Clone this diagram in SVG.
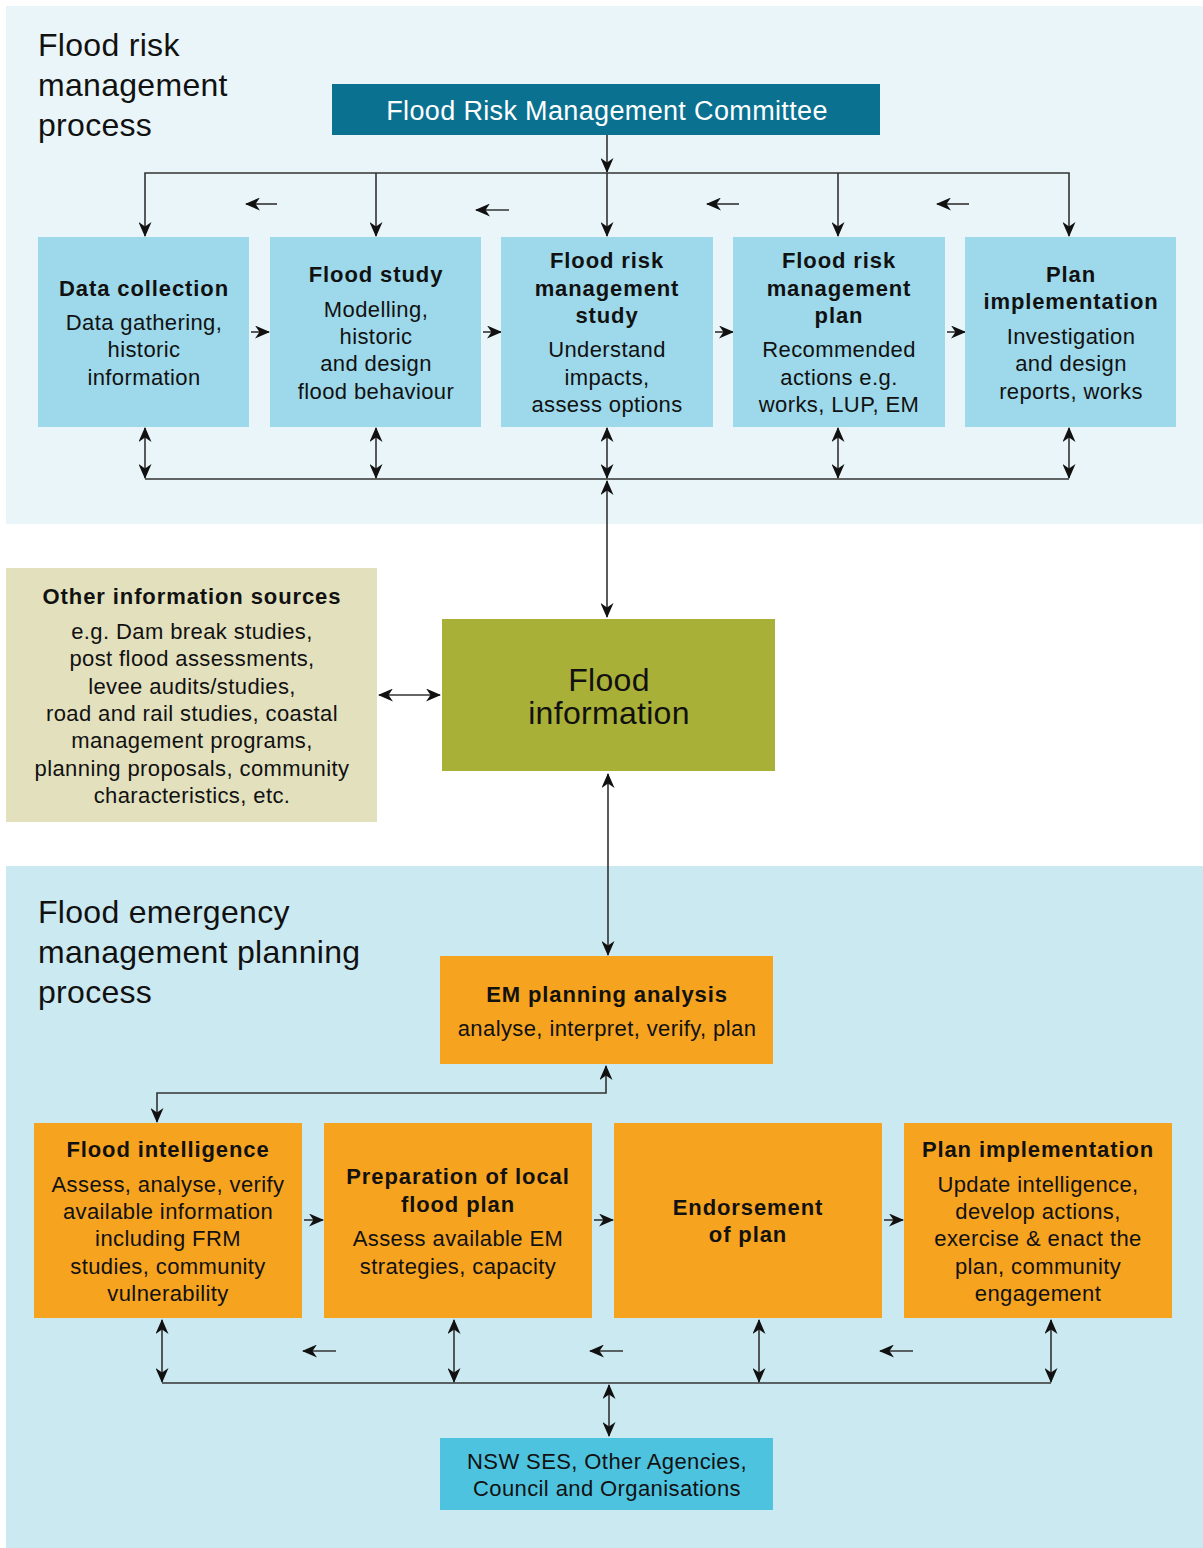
<svg xmlns="http://www.w3.org/2000/svg" width="1203" height="1548" viewBox="0 0 1203 1548">
<style>
text{font-family:"Liberation Sans",Arial,sans-serif;fill:#111;}
.hd{font-size:32px;letter-spacing:0.3px;}
.tb{font-size:22px;font-weight:bold;letter-spacing:0.9px;text-anchor:middle;}
.bd{font-size:22px;letter-spacing:0.4px;text-anchor:middle;}
.ln{stroke:#333;stroke-width:1.6;fill:none;}
.lb{fill:#9dd9ea;}
.or{fill:#f6a31f;}
</style>
<defs>
<marker id="ah" viewBox="0 0 15 13" refX="14" refY="6.5" markerWidth="15" markerHeight="13" markerUnits="userSpaceOnUse" orient="auto-start-reverse">
<path d="M0,0 L15,6.5 L0,13 L4.5,6.5 z" fill="#111"/>
</marker>
</defs>
<g id="backgrounds">
<rect x="6" y="6" width="1197" height="518" fill="#e9f5f8"/>
<rect x="6" y="866" width="1197" height="682" fill="#cbe9f1"/>
</g>
<g id="titles">
<text class="hd" x="38" y="56">Flood risk</text>
<text class="hd" x="38" y="96">management</text>
<text class="hd" x="38" y="136">process</text>
<text class="hd" x="38" y="923">Flood emergency</text>
<text class="hd" x="38" y="963">management planning</text>
<text class="hd" x="38" y="1003">process</text>
</g>
<g id="connectors">
<path class="ln" d="M607,135 V172" marker-end="url(#ah)"/>
<path class="ln" d="M145,236 V173 H1069 V236" marker-start="url(#ah)" marker-end="url(#ah)"/>
<path class="ln" d="M376,173 V236" marker-end="url(#ah)"/>
<path class="ln" d="M607,173 V236" marker-end="url(#ah)"/>
<path class="ln" d="M838,173 V236" marker-end="url(#ah)"/>
<path class="ln" d="M277,204 H246" marker-end="url(#ah)"/>
<path class="ln" d="M509,210 H476" marker-end="url(#ah)"/>
<path class="ln" d="M739,204 H707" marker-end="url(#ah)"/>
<path class="ln" d="M969,204 H937" marker-end="url(#ah)"/>
<path class="ln" d="M251,332 H269" marker-end="url(#ah)"/>
<path class="ln" d="M483,332 H501" marker-end="url(#ah)"/>
<path class="ln" d="M715,332 H733" marker-end="url(#ah)"/>
<path class="ln" d="M947,332 H965" marker-end="url(#ah)"/>
<path class="ln" d="M145,428 V478" marker-start="url(#ah)" marker-end="url(#ah)"/>
<path class="ln" d="M376,428 V478" marker-start="url(#ah)" marker-end="url(#ah)"/>
<path class="ln" d="M607,428 V478" marker-start="url(#ah)" marker-end="url(#ah)"/>
<path class="ln" d="M838,428 V478" marker-start="url(#ah)" marker-end="url(#ah)"/>
<path class="ln" d="M1069,428 V478" marker-start="url(#ah)" marker-end="url(#ah)"/>
<path class="ln" d="M145,479 H1069"/>
<path class="ln" d="M607,481 V617" marker-start="url(#ah)" marker-end="url(#ah)"/>
<path class="ln" d="M379,695 H440" marker-start="url(#ah)" marker-end="url(#ah)"/>
<path class="ln" d="M608,774 V955" marker-start="url(#ah)" marker-end="url(#ah)"/>
<path class="ln" d="M157,1122 V1093 H606 V1066" marker-start="url(#ah)" marker-end="url(#ah)"/>
<path class="ln" d="M304,1220 H323" marker-end="url(#ah)"/>
<path class="ln" d="M594,1220 H613" marker-end="url(#ah)"/>
<path class="ln" d="M884,1220 H903" marker-end="url(#ah)"/>
<path class="ln" d="M162,1320 V1382" marker-start="url(#ah)" marker-end="url(#ah)"/>
<path class="ln" d="M454,1320 V1382" marker-start="url(#ah)" marker-end="url(#ah)"/>
<path class="ln" d="M759,1320 V1382" marker-start="url(#ah)" marker-end="url(#ah)"/>
<path class="ln" d="M1051,1320 V1382" marker-start="url(#ah)" marker-end="url(#ah)"/>
<path class="ln" d="M162,1383 H1051"/>
<path class="ln" d="M336,1351 H303" marker-end="url(#ah)"/>
<path class="ln" d="M623,1351 H590" marker-end="url(#ah)"/>
<path class="ln" d="M913,1351 H880" marker-end="url(#ah)"/>
<path class="ln" d="M609,1385 V1436" marker-start="url(#ah)" marker-end="url(#ah)"/>
</g>
<g id="committee">
<rect x="332" y="84" width="548" height="51" fill="#0b7190"/>
<text x="607" y="120" style="font-size:27px;letter-spacing:0.35px;text-anchor:middle;fill:#fff">Flood Risk Management Committee</text>
</g>
<g id="data-collection">
<rect class="lb" x="38" y="237" width="211" height="190"/>
<text class="tb" x="144" y="296">Data collection</text>
<text class="bd" x="144" y="330">Data gathering,</text>
<text class="bd" x="144" y="357">historic</text>
<text class="bd" x="144" y="385">information</text>
</g>
<g id="flood-study">
<rect class="lb" x="270" y="237" width="211" height="190"/>
<text class="tb" x="376" y="282">Flood study</text>
<text class="bd" x="376" y="317">Modelling,</text>
<text class="bd" x="376" y="344">historic</text>
<text class="bd" x="376" y="371">and design</text>
<text class="bd" x="376" y="399">flood behaviour</text>
</g>
<g id="frm-study">
<rect class="lb" x="501" y="237" width="212" height="190"/>
<text class="tb" x="607" y="268">Flood risk</text>
<text class="tb" x="607" y="296">management</text>
<text class="tb" x="607" y="323">study</text>
<text class="bd" x="607" y="357">Understand</text>
<text class="bd" x="607" y="385">impacts,</text>
<text class="bd" x="607" y="412">assess options</text>
</g>
<g id="frm-plan">
<rect class="lb" x="733" y="237" width="212" height="190"/>
<text class="tb" x="839" y="268">Flood risk</text>
<text class="tb" x="839" y="296">management</text>
<text class="tb" x="839" y="323">plan</text>
<text class="bd" x="839" y="357">Recommended</text>
<text class="bd" x="839" y="385">actions e.g.</text>
<text class="bd" x="839" y="412">works, LUP, EM</text>
</g>
<g id="plan-implementation-top">
<rect class="lb" x="965" y="237" width="211" height="190"/>
<text class="tb" x="1071" y="282">Plan</text>
<text class="tb" x="1071" y="309">implementation</text>
<text class="bd" x="1071" y="344">Investigation</text>
<text class="bd" x="1071" y="371">and design</text>
<text class="bd" x="1071" y="399">reports, works</text>
</g>
<g id="other-information">
<rect x="6" y="568" width="371" height="254" fill="#e3e0bd"/>
<text class="tb" x="192" y="604">Other information sources</text>
<text class="bd" x="192" y="639">e.g. Dam break studies,</text>
<text class="bd" x="192" y="666">post flood assessments,</text>
<text class="bd" x="192" y="694">levee audits/studies,</text>
<text class="bd" x="192" y="721">road and rail studies, coastal</text>
<text class="bd" x="192" y="748">management programs,</text>
<text class="bd" x="192" y="776">planning proposals, community</text>
<text class="bd" x="192" y="803">characteristics, etc.</text>
</g>
<g id="flood-information">
<rect x="442" y="619" width="333" height="152" fill="#a9b037"/>
<text x="609" y="691" style="font-size:32px;letter-spacing:0.3px;text-anchor:middle">Flood</text>
<text x="609" y="724" style="font-size:32px;letter-spacing:0.3px;text-anchor:middle">information</text>
</g>
<g id="em-planning-analysis">
<rect class="or" x="440" y="956" width="333" height="108"/>
<text class="tb" x="607" y="1002">EM planning analysis</text>
<text class="bd" x="607" y="1036">analyse, interpret, verify, plan</text>
</g>
<g id="flood-intelligence">
<rect class="or" x="34" y="1123" width="268" height="195"/>
<text class="tb" x="168" y="1157">Flood intelligence</text>
<text class="bd" x="168" y="1192">Assess, analyse, verify</text>
<text class="bd" x="168" y="1219">available information</text>
<text class="bd" x="168" y="1246">including FRM</text>
<text class="bd" x="168" y="1274">studies, community</text>
<text class="bd" x="168" y="1301">vulnerability</text>
</g>
<g id="preparation">
<rect class="or" x="324" y="1123" width="268" height="195"/>
<text class="tb" x="458" y="1184">Preparation of local</text>
<text class="tb" x="458" y="1212">flood plan</text>
<text class="bd" x="458" y="1246">Assess available EM</text>
<text class="bd" x="458" y="1274">strategies, capacity</text>
</g>
<g id="endorsement">
<rect class="or" x="614" y="1123" width="268" height="195"/>
<text class="tb" x="748" y="1215">Endorsement</text>
<text class="tb" x="748" y="1242">of plan</text>
</g>
<g id="plan-implementation-bottom">
<rect class="or" x="904" y="1123" width="268" height="195"/>
<text class="tb" x="1038" y="1157">Plan implementation</text>
<text class="bd" x="1038" y="1192">Update intelligence,</text>
<text class="bd" x="1038" y="1219">develop actions,</text>
<text class="bd" x="1038" y="1246">exercise &amp; enact the</text>
<text class="bd" x="1038" y="1274">plan, community</text>
<text class="bd" x="1038" y="1301">engagement</text>
</g>
<g id="agencies">
<rect x="440" y="1438" width="333" height="72" fill="#4ec3df"/>
<text class="bd" x="607" y="1469">NSW SES, Other Agencies,</text>
<text class="bd" x="607" y="1496">Council and Organisations</text>
</g>
</svg>
